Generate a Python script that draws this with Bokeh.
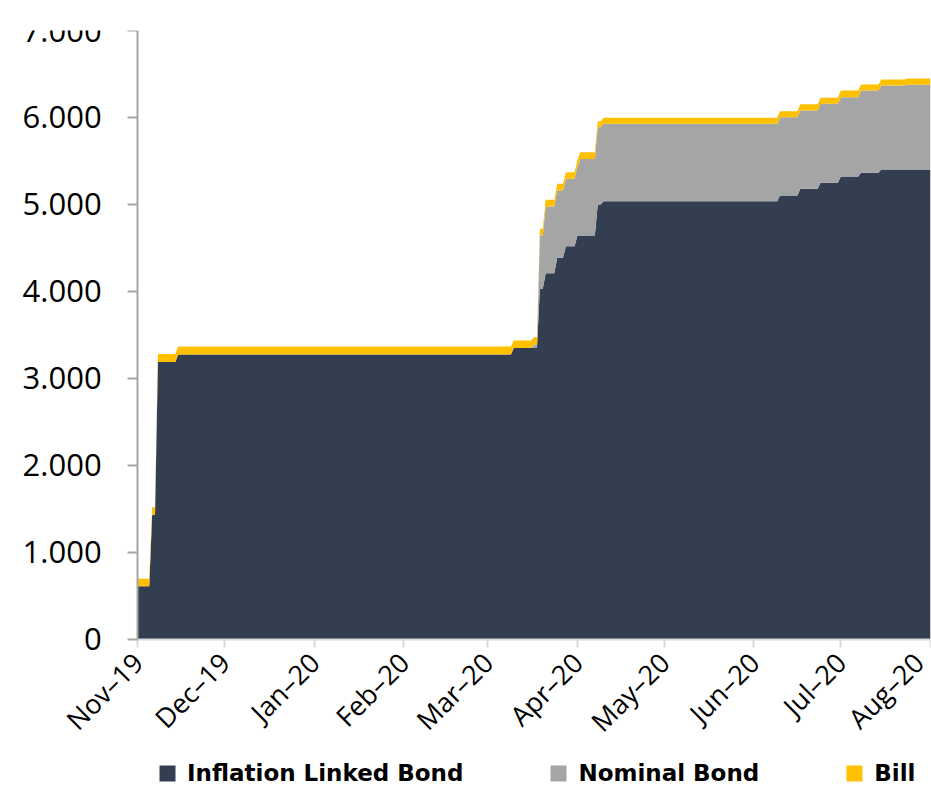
import math
import pandas as pd
from bokeh.plotting import figure
from bokeh.models import (ColumnDataSource, FixedTicker, DatetimeTickFormatter,
                          Range1d, Legend, LegendItem)
from bokeh.embed import file_html
from bokeh.resources import INLINE

# Cumulative holdings (stacked), read at the dates where they change
dates = [
    "2019-11-01", "2019-11-05", "2019-11-06", "2019-11-07", "2019-11-08", "2019-11-14", "2019-11-15",
    "2020-03-09", "2020-03-10", "2020-03-16", "2020-03-17", "2020-03-18", "2020-03-19", "2020-03-20",
    "2020-03-21", "2020-03-24", "2020-03-25", "2020-03-27", "2020-03-28", "2020-03-31", "2020-04-01",
    "2020-04-02", "2020-04-07", "2020-04-08", "2020-04-09", "2020-04-10",
    "2020-06-09", "2020-06-10", "2020-06-16", "2020-06-17", "2020-06-23", "2020-06-24", "2020-06-30",
    "2020-07-01", "2020-07-07", "2020-07-08", "2020-07-14", "2020-07-15", "2020-07-23", "2020-07-24",
    "2020-08-01",
]
inflation_linked = [
    613, 613, 1433, 1433, 3190, 3190, 3275,
    3275, 3350, 3350, 3350, 3350, 4030, 4030,
    4210, 4210, 4387, 4387, 4521, 4521, 4644,
    4644, 4644, 5000, 5000, 5038,
    5038, 5103, 5103, 5180, 5180, 5249, 5249,
    5322, 5322, 5364, 5364, 5402, 5402, 5402,
    5402,
]
nominal = [
    0, 0, 0, 0, 0, 0, 0,
    0, 0, 0, 40, 40, 614, 614,
    767, 767, 774, 774, 774, 774, 793,
    880, 880, 889, 889, 889,
    889, 900, 900, 900, 900, 908, 908,
    911, 911, 946, 946, 966, 966, 974,
    974,
]
bill = [
    85, 85, 88, 88, 92, 92, 92,
    92, 88, 88, 88, 88, 76, 76,
    77, 77, 77, 77, 76, 76, 77,
    77, 77, 68, 68, 69,
    69, 69, 69, 71, 71, 69, 69,
    77, 77, 69, 69, 69, 69, 72,
    72,
]

series_names = ["Inflation Linked Bond", "Nominal Bond", "Bill"]
series_colors = ["#333F50", "#A5A5A5", "#FFC000"]

y_ticks = [0, 1000, 2000, 3000, 4000, 5000, 6000, 7000]
y_tick_labels = ["0", "1.000", "2.000", "3.000", "4.000", "5.000", "6.000", "7.000"]

x_start = pd.Timestamp("2019-11-01")
x_end = pd.Timestamp("2020-08-01")
month_ticks = pd.date_range(x_start, x_end, freq="MS")
start_ms = x_start.value / 1e6
end_ms = x_end.value / 1e6

# The frame covers the whole canvas so the value labels, the rotated date
# labels and the legend can all sit inside it; both axes are pinned to the
# data origin (Nov-19, 0) and bounded to the data extent.
left_pad = pd.Timedelta(days=47.4)

source = ColumnDataSource(dict(
    date=pd.to_datetime(dates),
    ilb=inflation_linked,
    nominal=nominal,
    bill=bill,
))

p = figure(width=931, height=786, x_axis_type="datetime",
           output_backend="svg", toolbar_location=None,
           x_range=Range1d(x_start - left_pad, x_end), y_range=Range1d(-1690, 7000),
           min_border_left=0, min_border_right=1,
           min_border_top=30, min_border_bottom=0)

areas = p.varea_stack(["ilb", "nominal", "bill"], x="date",
                      color=series_colors, source=source)

p.outline_line_color = None
p.xgrid.visible = False
p.ygrid.visible = False
p.background_fill_color = "white"
p.border_fill_color = "white"

# y axis at Nov-19
yax = p.yaxis[0]
yax.fixed_location = start_ms
yax.bounds = (0, 7000)
yax.ticker = FixedTicker(ticks=y_ticks)
yax.major_label_overrides = {t: l for t, l in zip(y_ticks, y_tick_labels)}
yax.axis_line_color = "#A6A6A6"
yax.axis_line_width = 2
yax.major_tick_line_color = "#A6A6A6"
yax.major_tick_line_width = 2
yax.major_tick_out = 10
yax.major_tick_in = 0
yax.minor_tick_line_color = None
yax.major_label_standoff = 26
yax.major_label_text_font = "Open Sans"
yax.major_label_text_font_size = "31px"
yax.major_label_text_color = "#000000"

# x axis at value 0: month starts, rotated labels
xax = p.xaxis[0]
xax.fixed_location = 0
xax.bounds = (start_ms, end_ms)
xax.ticker = FixedTicker(ticks=[t.value / 1e6 for t in month_ticks])
xax.formatter = DatetimeTickFormatter(days="%b–%y", months="%b–%y", years="%b–%y")
xax.axis_line_color = "#D9D9D9"
xax.axis_line_width = 2
xax.major_tick_line_color = "#D9D9D9"
xax.major_tick_line_width = 2
xax.major_tick_out = 8
xax.major_tick_in = 0
xax.minor_tick_line_color = None
xax.major_label_orientation = math.pi / 4
xax.major_label_standoff = 10
xax.major_label_text_font = "Open Sans"
xax.major_label_text_font_size = "27px"
xax.major_label_text_color = "#000000"

legend = Legend(
    items=[LegendItem(label=n, renderers=[r]) for n, r in zip(series_names, areas)],
    orientation="horizontal",
    location=(157, 0),
    glyph_width=20, glyph_height=20,
    label_standoff=10, spacing=85,
    padding=0, margin=0,
    border_line_color=None, background_fill_alpha=0,
    label_text_font="DejaVu Sans", label_text_font_style="bold",
    label_text_font_size="23px", label_text_color="#000000",
)
p.add_layout(legend, "center")

open("out.html", "w").write(file_html(p, INLINE))
